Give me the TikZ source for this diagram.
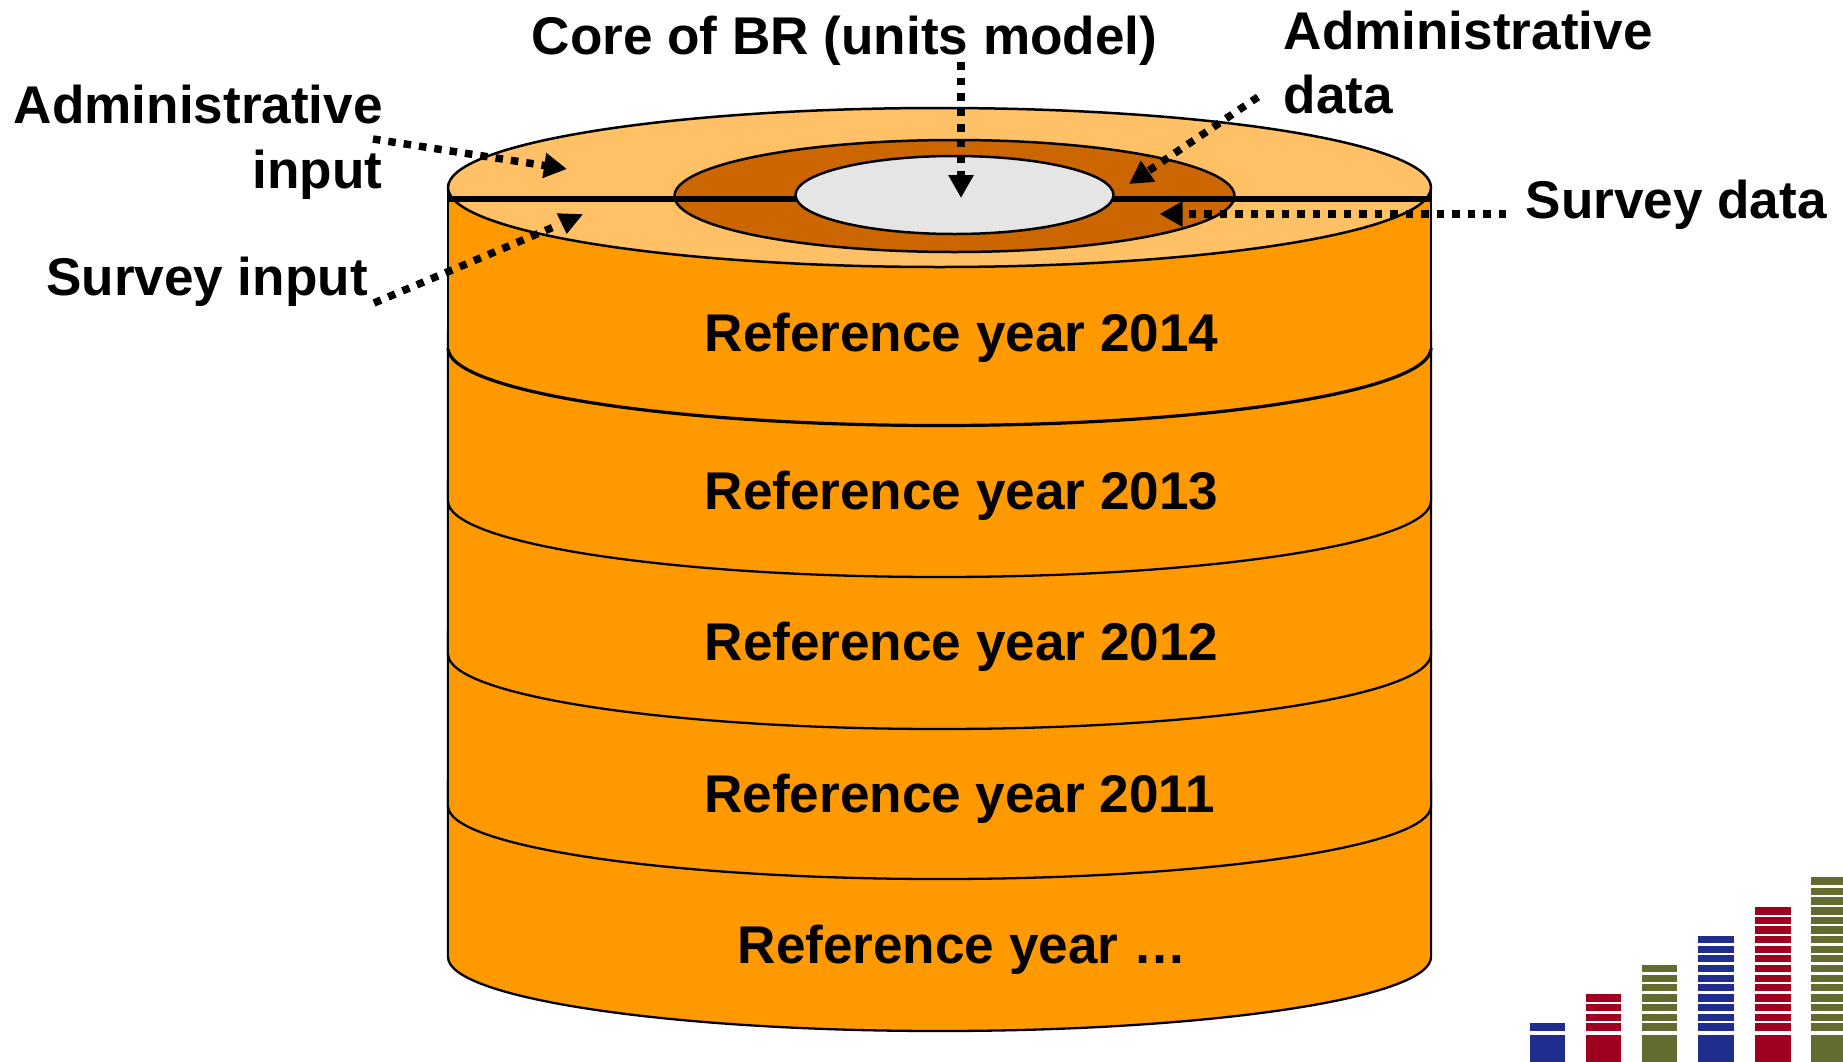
\documentclass[tikz,border=0pt]{standalone}
\usepackage{fontspec}
\setmainfont{Liberation Sans}
\usetikzlibrary{arrows.meta}
\definecolor{bodyc}{HTML}{FF9900}
\definecolor{lightc}{HTML}{FFC066}
\definecolor{midc}{HTML}{CC6600}
\definecolor{corec}{HTML}{E5E5E5}
\definecolor{logob}{HTML}{1F2E8C}
\definecolor{logor}{HTML}{A00020}
\definecolor{logog}{HTML}{636B30}
\tikzset{
  layer/.style={fill=bodyc,draw=black,line width=2.3bp},
  lbl/.style={font=\fontsize{53.1bp}{53.1bp}\selectfont\bfseries,inner sep=0pt,anchor=base},
  lbll/.style={lbl,anchor=base west},
  lblr/.style={lbl,anchor=base east},
  dotarrow/.style={line width=7.5bp,dash pattern=on 7.5bp off 8bp,-{Triangle[length=23bp,width=24bp]}},
  dotline/.style={line width=7.5bp,dash pattern=on 7.5bp off 8bp},
}
\newcommand{\layerpath}[3]{%
  \path[layer] (448,#1) -- (448,#2) arc[start angle=180,end angle=0,x radius=491.5,y radius=#3] -- (1431,#1);
  \path[fill=bodyc] (449,#1) rectangle (1430,#2);
}
\begin{document}
\begin{tikzpicture}[x=1bp,y=-1bp]
\useasboundingbox (0,0) rectangle (1843,1061);
% layers, bottom first
\layerpath{780}{957}{74}
\layerpath{630}{806}{73}
\layerpath{480}{654}{75}
\layerpath{330}{501}{76}
\path[layer,line width=3.2bp] (448,348) arc[start angle=180,end angle=0,x radius=491.5,y radius=77.5];
\path[fill=bodyc,draw=black,line width=2.3bp] (448,348) -- (448,188) -- (1431,188) -- (1431,348);
\path[fill=bodyc] (449,188) rectangle (1430,349);
% top surface
\path[fill=lightc,draw=black,line width=2.5bp] (939.5,187.5) ellipse[x radius=491.5,y radius=79.5];
\path[fill=midc,draw=black,line width=2.5bp] (954.5,196) ellipse[x radius=280,y radius=56];
\path[draw=black,line width=5.2bp] (448,199) -- (1431,199);
\path[fill=corec,draw=black,line width=2.5bp] (954.5,195) ellipse[x radius=159,y radius=39];
% labels
\node[lbl] (core) at (844.5,54) {Core of BR (units model)};
\node[lblr] (adminin1) at (383,123.5) {Administrative};
\node[lblr] (adminin2) at (382.5,188) {input};
\node[lblr] (surveyin) at (368,295) {Survey input};
\node[lbll] (admind1) at (1283.5,49) {Administrative};
\node[lbll] (admind2) at (1283.5,113) {data};
\node[lbll] (surveyd) at (1525.5,218.5) {Survey data};
\node[lbl] (y14) at (961.5,351.5) {Reference year 2014};
\node[lbl] (y13) at (961.5,509) {Reference year 2013};
\node[lbl] (y12) at (961.5,660.5) {Reference year 2012};
\node[lbl] (y11) at (959.7,812) {Reference year 2011};
\node[lbl] (yn) at (962,963) {Reference year …};
% arrows
\coordinate (coreS) at (961,62);
\coordinate (coreT) at (961,198);
\coordinate (aiS) at (373,139);
\coordinate (aiT) at (567,169);
\coordinate (adS) at (1258,97);
\coordinate (adT) at (1129,184);
\coordinate (sdS) at (1506,214);
\coordinate (sdT) at (1159.5,214);
\coordinate (siS) at (374,303);
\coordinate (siE) at (556,226);
\coordinate (siA) at (556.7,213.3);
\coordinate (siB) at (582.7,214.3);
\coordinate (siC) at (566.7,234);
\draw[dotarrow] (coreS) -- (coreT);
\draw[dotarrow] (aiS) -- (aiT);
\draw[dotarrow] (adS) -- (adT);
\draw[dotarrow] (sdS) -- (sdT);
\draw[dotline] (siS) -- (siE);
\fill (siA) -- (siB) -- (siC) -- cycle;
% logo
\def\stripes{493/516,464/486,434/456,406/428,376/396,348/370,318/338,289/308,260/281,230/252,202/224,173/195,145/167,114/137,87/108,55/78}
\foreach \xa/\xb/\col/\n in {1529.5/1564.5/logob/1,1586/1620.5/logor/4,1642/1677/logog/7,1698/1733.5/logob/10,1755/1790.5/logor/13,1811/1843/logog/16}{
  \fill[\col] (\xa,1035) rectangle (\xb,1063);
  \foreach \t/\b [count=\i] in \stripes {
    \ifnum\i>\n\else
      \fill[\col] (\xa,{859+\t/3}) rectangle (\xb,{859+\b/3});
    \fi
  }
}
\end{tikzpicture}
\end{document}
